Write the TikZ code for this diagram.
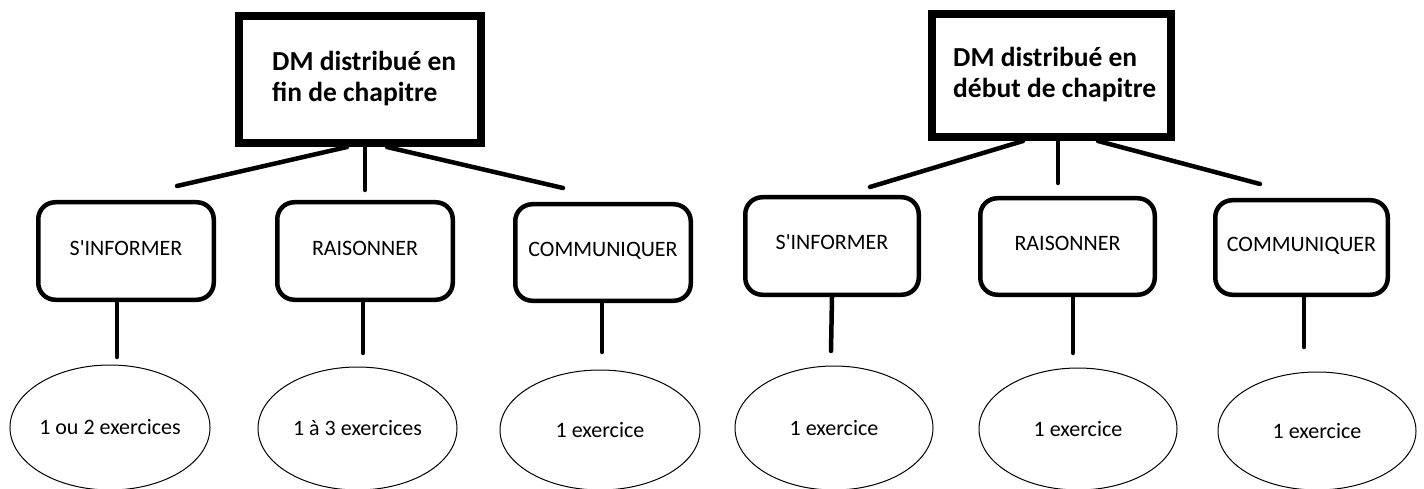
\documentclass[tikz,border=0pt]{standalone}
\usepackage{fontspec}
\setmainfont{Carlito}
\usetikzlibrary{shapes.geometric}
\tikzset{
  bigbox/.style={draw, line width=8pt, inner sep=0pt},
  titletext/.style={inner sep=0pt, anchor=north west, align=left, font=\bfseries\fontsize{27.5}{31.5}\selectfont},
  smallbox/.style={draw, line width=4.5pt, rounded corners=17pt, inner sep=0pt,
    text height=14pt, text depth=6pt, font=\fontsize{22}{26}\selectfont},
  oval/.style={draw, ellipse, line width=1pt, inner sep=0pt, font=\fontsize{22}{26}\selectfont},
  link/.style={line width=4.5pt, line cap=round},
}
\begin{document}
\begin{tikzpicture}[x=1pt,y=-1pt]
\useasboundingbox (0,0) rectangle (1424,489);
\clip (0,0) rectangle (1424,489);
% ---------- left tree ----------
\node[bigbox, minimum width=242pt, minimum height=127pt] (t1) at (360,79.5) {};
\node[titletext] (t1text) at (272,51) {DM distribué en\\fin de chapitre};
\node[smallbox, minimum width=175.5pt, minimum height=97.5pt] (b1) at (126,251) {S\textquotesingle INFORMER};
\node[smallbox, minimum width=175.5pt, minimum height=97.5pt] (b2) at (365,251) {RAISONNER};
\node[smallbox, minimum width=175.5pt, minimum height=96.5pt] (b3) at (603,252.5) {COMMUNIQUER};
\node[oval, minimum width=200pt, minimum height=125pt] (e1) at (110,427.5) {1 ou 2 exercices};
\node[oval, minimum width=199pt, minimum height=123pt] (e2) at (357.5,428.5) {1 à 3 exercices};
\node[oval, minimum width=200pt, minimum height=120pt] (e3) at (600,430) {1 exercice};
\coordinate (l1) at (177,186);
\coordinate (l2) at (365,190);
\coordinate (l3) at (563,188);
\coordinate (v1) at (117,357);
\coordinate (v2) at (363,353);
\coordinate (v3) at (602,352);
\draw[link] ([xshift=-13pt]t1.south) -- (l1);
\draw[link] ([xshift=5pt]t1.south) -- (l2);
\draw[link] ([xshift=27pt]t1.south) -- (l3);
\draw[link] ([xshift=-9pt]b1.south) -- (v1);
\draw[link] ([xshift=-2pt]b2.south) -- (v2);
\draw[link] ([xshift=-1pt]b3.south) -- (v3);
% ---------- right tree ----------
\node[bigbox, minimum width=239pt, minimum height=123pt] (t2) at (1051.5,75.5) {};
\node[titletext] (t2text) at (953,47) {DM distribué en\\début de chapitre};
\node[smallbox, minimum width=173.5pt, minimum height=97.5pt] (b4) at (832,246) {S\textquotesingle INFORMER};
\node[smallbox, minimum width=174.5pt, minimum height=96.5pt] (b5) at (1067.5,246.5) {RAISONNER};
\node[smallbox, minimum width=172.5pt, minimum height=94.5pt] (b6) at (1301.5,247.5) {COMMUNIQUER};
\node[oval, minimum width=198pt, minimum height=124pt] (e4) at (834,428) {1 exercice};
\node[oval, minimum width=198pt, minimum height=122pt] (e5) at (1078,429) {1 exercice};
\node[oval, minimum width=198pt, minimum height=118pt] (e6) at (1317,431) {1 exercice};
\coordinate (r1) at (870,187);
\coordinate (r2) at (1058,183);
\coordinate (r3) at (1260,184);
\coordinate (w1) at (831,351);
\coordinate (w2) at (1073,353);
\coordinate (w3) at (1304,347);
\draw[link] ([xshift=-28.5pt]t2.south) -- (r1);
\draw[link] ([xshift=6.5pt]t2.south) -- (r2);
\draw[link] ([xshift=46.5pt]t2.south) -- (r3);
\draw[link] (b4.south) -- (w1);
\draw[link] ([xshift=5.5pt]b5.south) -- (w2);
\draw[link] ([xshift=2.5pt]b6.south) -- (w3);
\end{tikzpicture}
\end{document}
